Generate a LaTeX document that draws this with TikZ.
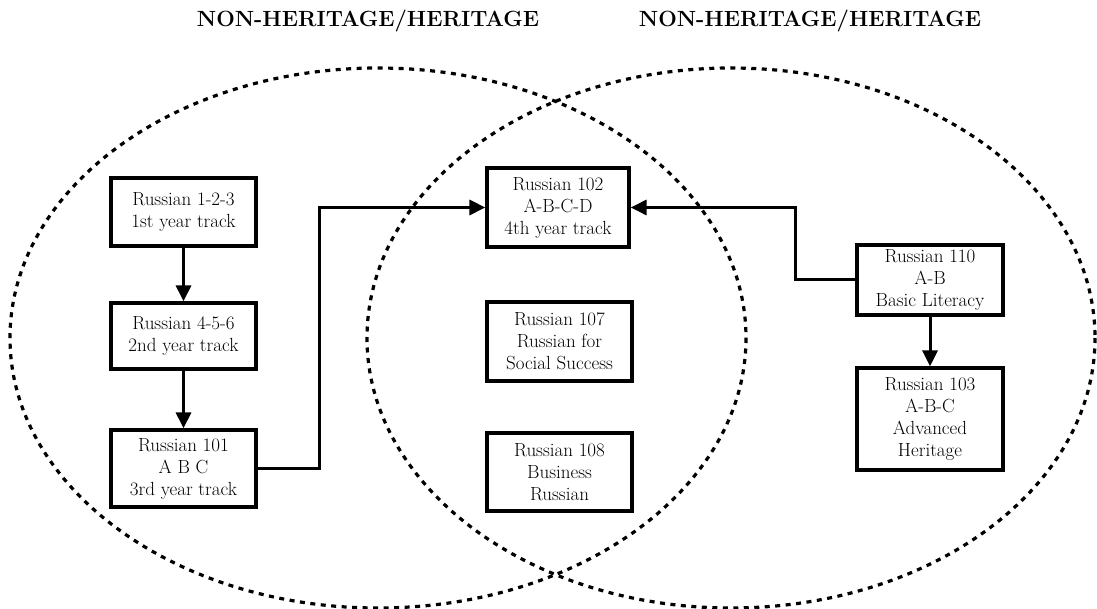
\documentclass[tikz,border=0pt]{standalone}
\usepackage{tikz}
\usetikzlibrary{arrows.meta, positioning, shapes.geometric, calc}

\begin{document}
\begin{tikzpicture}[x=1pt, y=-1pt,
        course/.style={rectangle, draw, line width=3.2pt, fill=white,
                       minimum width=145pt, inner sep=1pt,
                       font=\fontsize{19}{22}\selectfont, align=center},
        arr/.style={-{Triangle[length=16pt,width=15pt]}, line width=3pt},
        ring/.style={line width=3.2pt, dash pattern=on 5pt off 5.5pt},
        head/.style={font=\fontsize{22}{26}\selectfont\bfseries},
      ]
        \useasboundingbox (0,0) rectangle (1097,609);

        % the two groups
        \draw[ring] (378,338) ellipse [x radius=368, y radius=270];
        \draw[ring] (731,338) ellipse [x radius=364, y radius=270];

        \node[head] (hleft)  at (368,21) {NON-HERITAGE/HERITAGE};
        \node[head] (hright) at (810,21) {NON-HERITAGE/HERITAGE};

        % non-heritage track
        \node[course, minimum height=68pt] (r123) at (183.5,212)
          {Russian 1-2-3\\1st year track};
        \node[course, minimum height=66pt] (r456) at (183.5,336)
          {Russian 4-5-6\\2nd year track};
        \node[course, minimum height=77pt] (r101) at (183.5,468.5)
          {Russian 101\\A B C\\3rd year track};

        % shared courses
        \node[course, minimum width=142pt, minimum height=79pt] (r102)
          at (558,207.5) {Russian 102\\A-B-C-D\\4th year track};
        \node[course, minimum height=79pt] (r107) at (559.5,341.5)
          {Russian 107\\Russian for\\Social Success};
        \node[course, minimum height=78pt] (r108) at (559.5,472)
          {Russian 108\\Business\\Russian};

        % heritage track
        \node[course, minimum width=146pt, minimum height=70pt] (r110)
          at (930,280) {Russian 110\\A-B\\Basic Literacy};
        \node[course, minimum width=146pt, minimum height=102pt] (r103)
          at (930,419) {Russian 103\\A-B-C\\Advanced\\Heritage};

        \draw[arr] (r123) -- (r456);
        \draw[arr] (r456) -- (r101);
        \draw[arr] (r101.east) -- ++(62,0) |- (r102.west);
        \draw[arr] (r110.west) -- ++(-60,0) |- (r102.east);
        \draw[arr] (r110) -- (r103);
      \end{tikzpicture}
\end{document}
